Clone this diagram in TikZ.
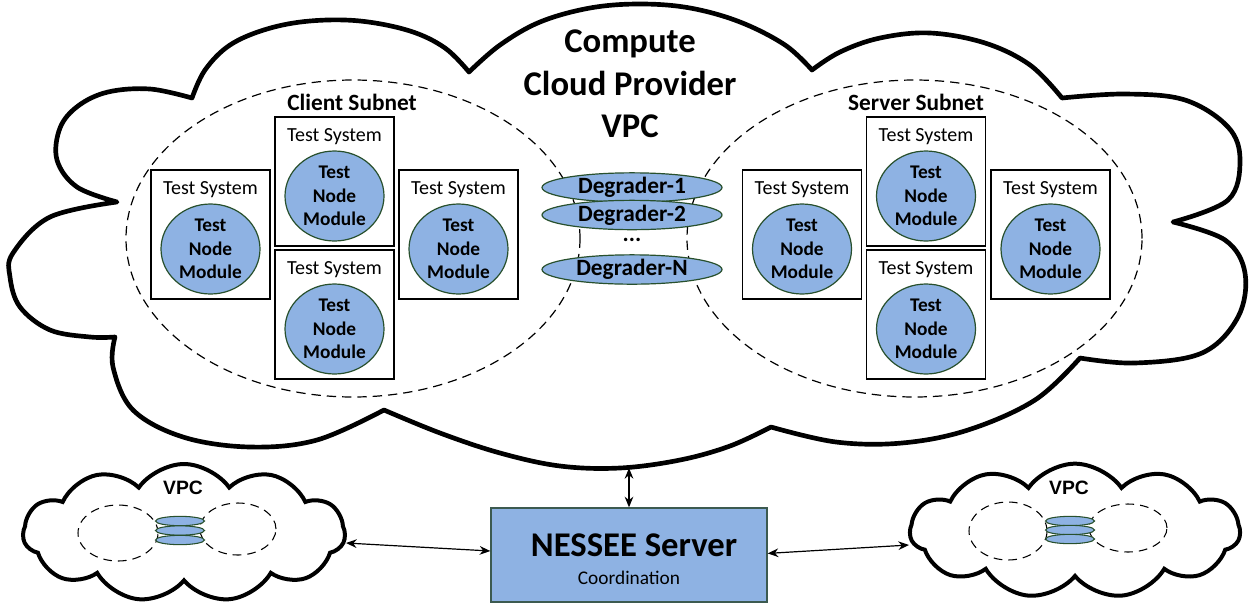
\documentclass[tikz,border=0pt]{standalone}
\usepackage{fontspec}
\setmainfont{Carlito}
\newfontfamily\arialf{Liberation Sans}
\usetikzlibrary{shapes.geometric,shapes.symbols,arrows.meta}
\definecolor{nodeblue}{RGB}{142,178,227}
\definecolor{nodegreen}{RGB}{40,80,45}
\definecolor{boxedge}{RGB}{60,90,80}
\newcommand\tsys[3]{%
  \node[tsbox] (#1) at (#2,#3+64.5) {};
  \node[tslabel] (#1t) at (#2,#3+20) {Test System};
  \node[tnm, label={[tnmtext]center:{Test\\Node\\Module}}] (#1c) at (#2,#3+79) {};
}
\begin{document}
\begin{tikzpicture}[x=0.75pt,y=-0.75pt,
  tsbox/.style={draw=black, line width=1.1pt, minimum width=89.25pt, minimum height=96.75pt, inner sep=0pt},
  tslabel/.style={font=\fontsize{15}{17}\selectfont, inner sep=0pt},
  tnm/.style={ellipse, draw=nodegreen, line width=0.9pt, fill=nodeblue, minimum width=74.25pt, minimum height=67.5pt, inner sep=0pt},
  tnmtext/.style={font=\fontsize{14.5}{17.8}\selectfont\bfseries, align=center, inner sep=0pt},
  degr/.style={ellipse, draw=nodegreen, line width=0.9pt, fill=nodeblue, minimum width=135pt, minimum height=22pt, inner sep=0pt, text height=12pt, text depth=3pt, font=\fontsize{17.5}{20}\selectfont\bfseries},
  subnet/.style={ellipse, draw=black, line width=0.9pt, dash pattern=on 7pt off 4.5pt, inner sep=0pt},
  vsub/.style={ellipse, draw=black, line width=0.8pt, dash pattern=on 6.5pt off 4.5pt, inner sep=0pt},
  disk/.style={ellipse, draw=nodegreen, line width=0.8pt, fill=nodeblue, minimum width=36.75pt, minimum height=7pt, inner sep=0pt},
  bigcloud/.style={draw=black, line width=3.5pt, line join=round},
  smallcloud/.style={cloud, cloud puffs=11, cloud puff arc=110, draw=black, line width=3pt, fill=white, inner sep=0pt},
  vpclabel/.style={font=\arialf\bfseries\fontsize{14.5}{17}\selectfont, inner sep=0pt},
  arr/.style={{Stealth[length=8pt,width=6.5pt]}-{Stealth[length=8pt,width=6.5pt]}, line width=0.9pt}
]
\useasboundingbox (0,0) rectangle (1255,604);

% big cloud
\draw[bigcloud, fill=white]
 plot[smooth, tension=0.6] coordinates {(117,202) (77,187) (57,160) (60,128) (78,106) (108,92) (150,89) (192,98)}
 -- plot[smooth, tension=0.6] coordinates {(192,98) (205,70) (230,45) (267,29) (310,21) (360,21) (410,31) (445,48) (469,72)}
 -- plot[smooth, tension=0.6] coordinates {(469,72) (500,45) (540,22) (590,8) (640,4) (690,8) (740,22) (785,45) (812,70)}
 -- plot[smooth, tension=0.6] coordinates {(812,70) (840,52) (880,38) (930,33) (985,43) (1030,65) (1062,98)}
 -- plot[smooth, tension=0.6] coordinates {(1062,98) (1125,94) (1185,100) (1228,127) (1240,160) (1228,200) (1173,222)}
 -- plot[smooth, tension=0.6] coordinates {(1173,222) (1225,240) (1245,273) (1238,317) (1202,353) (1135,363) (1080,358)}
 -- plot[smooth, tension=0.6] coordinates {(1080,358) (1035,400) (968,430) (902,443) (836,442) (771,427)}
 -- plot[smooth, tension=0.6] coordinates {(771,427) (730,446) (680,460) (620,468) (560,466) (500,453) (440,433) (384,410)}
 -- plot[smooth, tension=0.6] coordinates {(384,410) (317,440) (250,447) (183,437) (133,410) (113,367) (115,337)}
 -- plot[smooth, tension=0.6] coordinates {(115,337) (90,337) (50,330) (20,307) (10,277) (13,253) (50,217) (117,202)}
 -- cycle;
\coordinate (cloudbot) at (629,468);

% subnets
\node[subnet, minimum width=340.5pt, minimum height=237.75pt] (clientnet) at (353,238.5) {};
\node[subnet, minimum width=341.25pt, minimum height=237.75pt] (servernet) at (914.5,238.5) {};
\node[font=\fontsize{17.5}{20}\selectfont\bfseries] (clientlbl) at (352,102) {Client Subnet};
\node[font=\fontsize{17.5}{20}\selectfont\bfseries] (serverlbl) at (916,102) {Server Subnet};

% title
\node[font=\fontsize{26}{31.9}\selectfont\bfseries, align=center] (title) at (630,84) {Compute\\Cloud Provider\\VPC};

% test systems
\tsys{c1}{210.5}{170}
\tsys{c2}{334.5}{117}
\tsys{c3}{334.5}{250}
\tsys{c4}{458.5}{170}
\tsys{s1}{802}{170}
\tsys{s2}{926}{117}
\tsys{s3}{926}{250}
\tsys{s4}{1050.5}{170}

% degraders
\node[degr] (d1) at (632,187.5) {Degrader-1};
\node[degr] (d2) at (632,215) {Degrader-2};
\node[font=\fontsize{17.5}{20}\selectfont\bfseries, inner sep=0pt] (ddots) at (632,240) {...};
\node[degr] (dn) at (632,269.5) {Degrader-N};

% small clouds
\node[smallcloud, minimum width=241.5pt, minimum height=103.5pt] (lvpc) at (184,533) {};
\node[vpclabel] (lvpct) at (183,488) {VPC};
\node[vsub, minimum width=60pt, minimum height=42pt] (lvl) at (118,533) {};
\node[vsub, minimum width=57pt, minimum height=39pt] (lvr) at (238,529) {};
\node[disk] (lda) at (180,521) {};
\node[disk] (ldb) at (180,530.5) {};
\node[disk] (ldc) at (180,540) {};

\node[smallcloud, minimum width=247.5pt, minimum height=101pt] (rvpc) at (1075,531) {};
\node[vpclabel] (rvpct) at (1069,488) {VPC};
\node[vsub, minimum width=58.5pt, minimum height=43.5pt] (rvl) at (1008,531) {};
\node[vsub, minimum width=58.5pt, minimum height=36pt] (rvr) at (1128,528) {};
\node[disk] (rda) at (1070,521) {};
\node[disk] (rdb) at (1070,530) {};
\node[disk] (rdc) at (1070,539) {};

% NESSEE server
\node[draw=boxedge, fill=nodeblue, line width=1pt, minimum width=207pt, minimum height=70.5pt, inner sep=0pt] (ness) at (629,555) {};
\node[font=\fontsize{26}{30}\selectfont\bfseries] (nesst) at (634,545) {NESSEE Server};
\node[font=\fontsize{14.5}{17}\selectfont] (nessc) at (629,578) {Coordination};

% connectors
\coordinate (lvpcE) at (346,543);
\coordinate (nessW) at ([yshift=3pt]ness.west);
\coordinate (nessE) at ([yshift=1.2pt]ness.east);
\coordinate (rvpcW) at (909,545);
\draw[arr] (cloudbot) -- (ness.north);
\draw[arr] (lvpcE) -- (nessW);
\draw[arr] (nessE) -- (rvpcW);
\end{tikzpicture}
\end{document}
